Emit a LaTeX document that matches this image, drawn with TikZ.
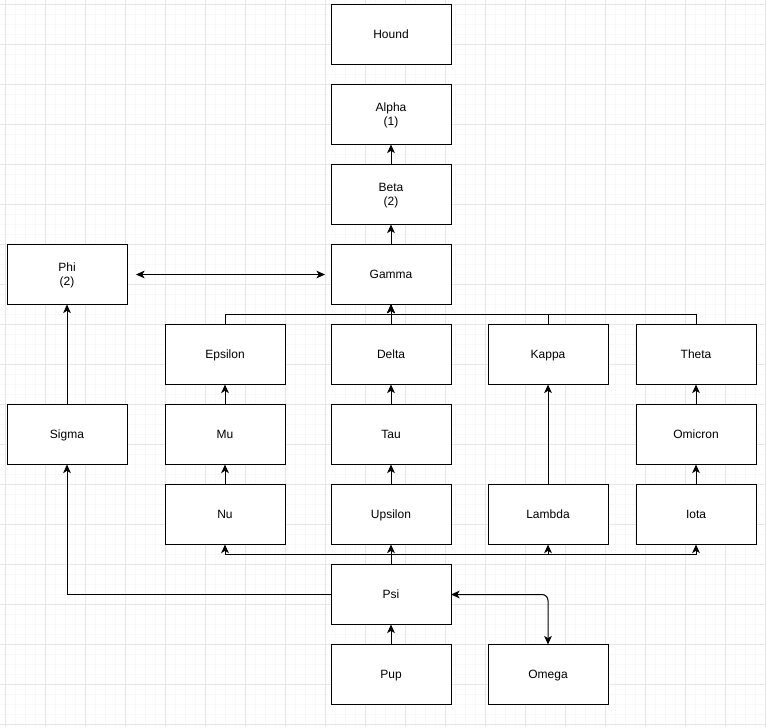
\documentclass[tikz,border=0pt]{standalone}
\usepackage{fontspec}
\setmainfont{Liberation Sans}
\usetikzlibrary{arrows.meta,calc}
\definecolor{gridminor}{HTML}{F8F8F8}
\definecolor{gridmajor}{HTML}{E6E6E6}
\tikzset{
  box/.style={draw, line width=0.75pt, fill=white, minimum width=90pt, minimum height=45pt,
    inner sep=0pt, outer sep=0pt, align=center, text depth=0.6pt, font=\fontsize{9}{10.5}\selectfont},
  conn/.style={line width=0.75pt, -{Stealth[length=6.5pt,width=5.8pt,inset=1.8pt]}},
  conn2/.style={line width=0.75pt, {Stealth[length=6.5pt,width=5.8pt,inset=1.8pt]}-{Stealth[length=6.5pt,width=5.8pt,inset=1.8pt]}},
  plain/.style={line width=0.75pt}
}
\begin{document}
\begin{tikzpicture}[x=0.75pt,y=-0.75pt]
\useasboundingbox (0,0) rectangle (766,727);
\fill[white] (0,0) rectangle (766,727);
% grid
\foreach \gx in {5,15,...,765} \draw[gridminor,line width=0.75pt] (\gx,0) -- (\gx,727);
\foreach \gy in {4.5,14.5,...,727} \draw[gridminor,line width=0.75pt] (0,\gy) -- (766,\gy);
\foreach \gx in {5,45,...,765} \draw[gridmajor,line width=0.75pt] (\gx,0) -- (\gx,727);
\foreach \gy in {4.5,44.5,...,727} \draw[gridmajor,line width=0.75pt] (0,\gy) -- (766,\gy);
% nodes
\node[box] (hound) at (391,34.5) {Hound};
\node[box] (alpha) at (391,114.5) {Alpha\\(1)};
\node[box] (beta) at (391,194.5) {Beta\\(2)};
\node[box] (gamma) at (391,274.5) {Gamma};
\node[box] (phi) at (67,274.5) {Phi\\(2)};
\node[box] (epsilon) at (225,354.5) {Epsilon};
\node[box] (delta) at (391,354.5) {Delta};
\node[box] (kappa) at (548,354.5) {Kappa};
\node[box] (theta) at (696,354.5) {Theta};
\node[box] (sigma) at (67,434.5) {Sigma};
\node[box] (mu) at (225,434.5) {Mu};
\node[box] (tau) at (391,434.5) {Tau};
\node[box] (omicron) at (696,434.5) {Omicron};
\node[box] (nu) at (225,514.5) {Nu};
\node[box] (upsilon) at (391,514.5) {Upsilon};
\node[box] (lambda) at (548,514.5) {Lambda};
\node[box] (iota) at (696,514.5) {Iota};
\node[box] (psi) at (391,594.5) {Psi};
\node[box] (pup) at (391,674.5) {Pup};
\node[box] (omega) at (548,674.5) {Omega};
% connectors
\draw[conn] (beta) -- (alpha);
\draw[conn] (gamma) -- (beta);
\draw[conn2, shorten <=9pt*0.75, shorten >=6pt*0.75] (phi) -- (gamma);
\draw[conn] (epsilon.north) -- ++(0,-10) -| (gamma.south);
\draw[conn] (kappa.north) -- ++(0,-10) -| (gamma.south);
\draw[conn] (theta.north) -- ++(0,-10) -| (gamma.south);
\draw[conn] (delta) -- (gamma);
\draw[conn] (mu) -- (epsilon);
\draw[conn] (nu) -- (mu);
\draw[conn] (tau) -- (delta);
\draw[conn] (upsilon) -- (tau);
\draw[conn] (lambda) -- (kappa);
\draw[conn] (omicron) -- (theta);
\draw[conn] (iota) -- (omicron);
\draw[conn] (sigma) -- (phi);
\draw[conn] (psi.north) -- ++(0,-10) -| (nu.south);
\draw[conn] (psi.north) -- ++(0,-10) -| (lambda.south);
\draw[conn] (psi.north) -- ++(0,-10) -| (iota.south);
\draw[conn] (psi) -- (upsilon);
\draw[conn] (psi.west) -| (sigma.south);
\draw[conn] (pup) -- (psi);
\draw[conn2, rounded corners=6pt*0.75] (psi.east) -| (omega.north);
\end{tikzpicture}
\end{document}
